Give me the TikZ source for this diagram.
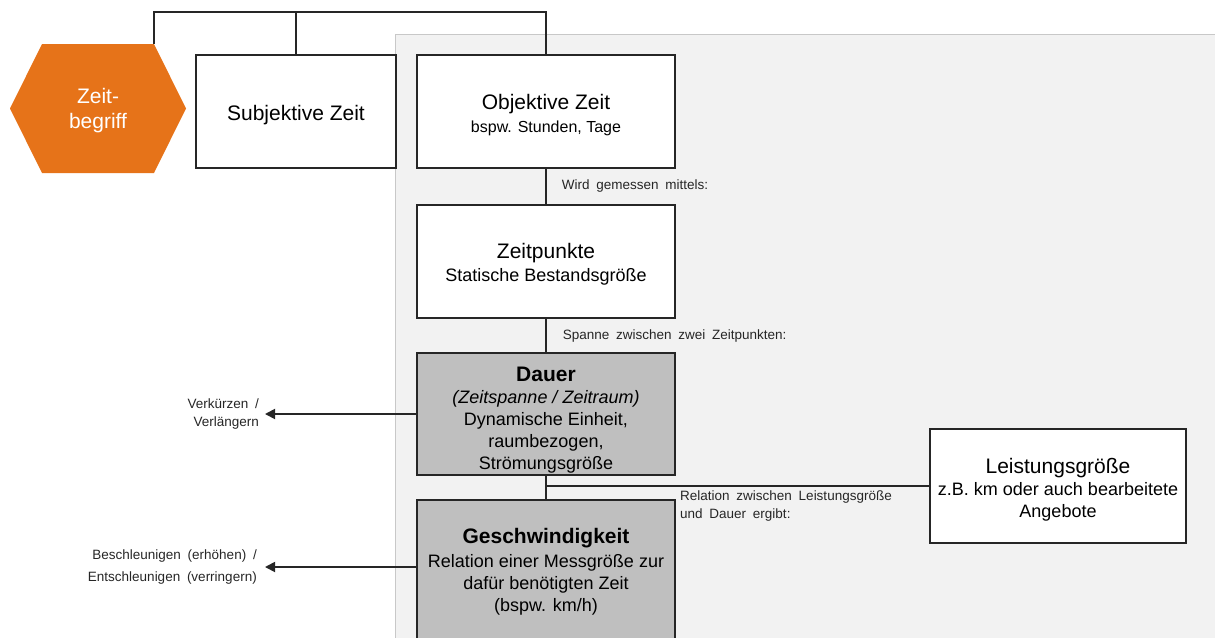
\documentclass[tikz,border=0pt]{standalone}
\usepackage{fontspec}
\setmainfont{Liberation Sans}
\usetikzlibrary{arrows.meta,positioning}

\definecolor{zeitorange}{RGB}{230, 115, 25}
\definecolor{kastengrau}{RGB}{191, 191, 191}
\definecolor{hintergrund}{RGB}{242, 242, 242}
\definecolor{randgrau}{RGB}{200, 200, 200}

\begin{document}
\begin{tikzpicture}[x=1pt, y=-1pt,
	kasten/.style={draw=black!85, line width=1.8pt, fill=white, align=center, inner sep=2pt,
		minimum width=258pt, minimum height=113pt, font=\fontsize{18}{22}\selectfont},
	graukasten/.style={kasten, fill=kastengrau},
	linie/.style={draw=black!85, line width=1.8pt},
	pfeil/.style={linie, -{Triangle[length=10pt, width=10pt]}},
	notiz/.style={inner sep=0pt, text=black!85, font=\fontsize{13.5}{18}\selectfont,
		execute at begin node={\spaceskip=0.5em\relax}}]
		
		% Bildgröße wie Vorlage
		\useasboundingbox (0,0) rectangle (1215,637);
		
		% Grauer Hintergrund (objektive Zeit)
		\fill[hintergrund] (395.5,34) rectangle (1225,650);
		\draw[randgrau, line width=1pt] (395.5,650) -- (395.5,34) -- (1225,34);
		
		% Sechseck Zeitbegriff
		\fill[zeitorange] (10,108.5) -- (42,44) -- (154,44) -- (186,108.5) -- (154,173) -- (42,173) -- cycle;
		\node[text=white, align=center, font=\fontsize{21}{25}\selectfont] (zeitbegriff) at (98,111) {Zeit-\\begriff};
		\coordinate (ecke) at (154,44);
		\coordinate (oben) at (154,12);
		
		% Kästen (\rule schiebt den Text etwas nach unten)
		\node[kasten, minimum width=200pt, font=\fontsize{21}{25}\selectfont] (subjektiv) at (296,111.5) {\rule{0pt}{22pt}Subjektive Zeit};
		\node[kasten] (objektiv) at (546,111.5) {{\fontsize{21}{25}\selectfont\rule{0pt}{23pt}Objektive Zeit}\\[1pt] {\fontsize{16}{20}\selectfont bspw. Stunden, Tage}};
		\node[kasten] (zeitpunkte) at (546,261.5) {{\fontsize{21}{25}\selectfont\rule{0pt}{21.5pt}Zeitpunkte}\\[1pt] Statische Bestandsgröße};
		\node[graukasten, minimum height=120pt] (dauer) at (546,414) {{\fontsize{21}{25}\selectfont\bfseries\rule{0pt}{26pt}Dauer}\\ \textit{(Zeitspanne / Zeitraum)}\\ Dynamische Einheit,\\ raumbezogen,\\ Strömungsgröße};
		\node[graukasten, minimum height=144pt] (geschw) at (546,572) {{\fontsize{21}{25}\selectfont\bfseries Geschwindigkeit}\\[2pt] Relation einer Messgröße zur\\ dafür benötigten Zeit\\ (bspw. km/h)};
		\node[kasten, minimum width=256pt, minimum height=114pt] (leistung) at (1058,486) {{\fontsize{21}{25}\selectfont\rule{0pt}{22pt}Leistungsgröße}\\ z.B. km oder auch bearbeitete\\ Angebote};
		
		% Verbindungen oben
		\draw[linie] (ecke) -- (oben) -| (objektiv.north);
		\draw[linie] (subjektiv.north) -- (subjektiv.north |- oben);
		
		% Senkrechte Kette mit Beschriftung
		\draw[linie] (objektiv) -- node[notiz, right=15pt] (gemessen) {Wird gemessen mittels:} (zeitpunkte);
		\draw[linie] (zeitpunkte) -- node[notiz, right=16pt] (spanne) {Spanne zwischen zwei Zeitpunkten:} (dauer);
		\draw[linie] (dauer) -- (geschw);
		\draw[linie] (dauer.south |- leistung.west) -- (leistung.west);
		\node[notiz, anchor=north west, align=left] (relation) at (680,491) {Relation zwischen Leistungsgröße\\und Dauer ergibt:};
		
		% Pfeile nach links
		\node[notiz, inner xsep=6pt, anchor=east, align=right] (verkuerzen) at (265,414) {Verkürzen /\\Verlängern};
		\node[notiz, inner xsep=8pt, anchor=east, align=right, font=\fontsize{13.5}{22}\selectfont] (beschleunigen) at (265,567) {Beschleunigen (erhöhen) /\\Entschleunigen (verringern)};
		\draw[pfeil] (dauer.west) -- (verkuerzen.east);
		\draw[pfeil] (geschw.west |- beschleunigen.east) -- (beschleunigen.east);
		
	\end{tikzpicture}
\end{document}
